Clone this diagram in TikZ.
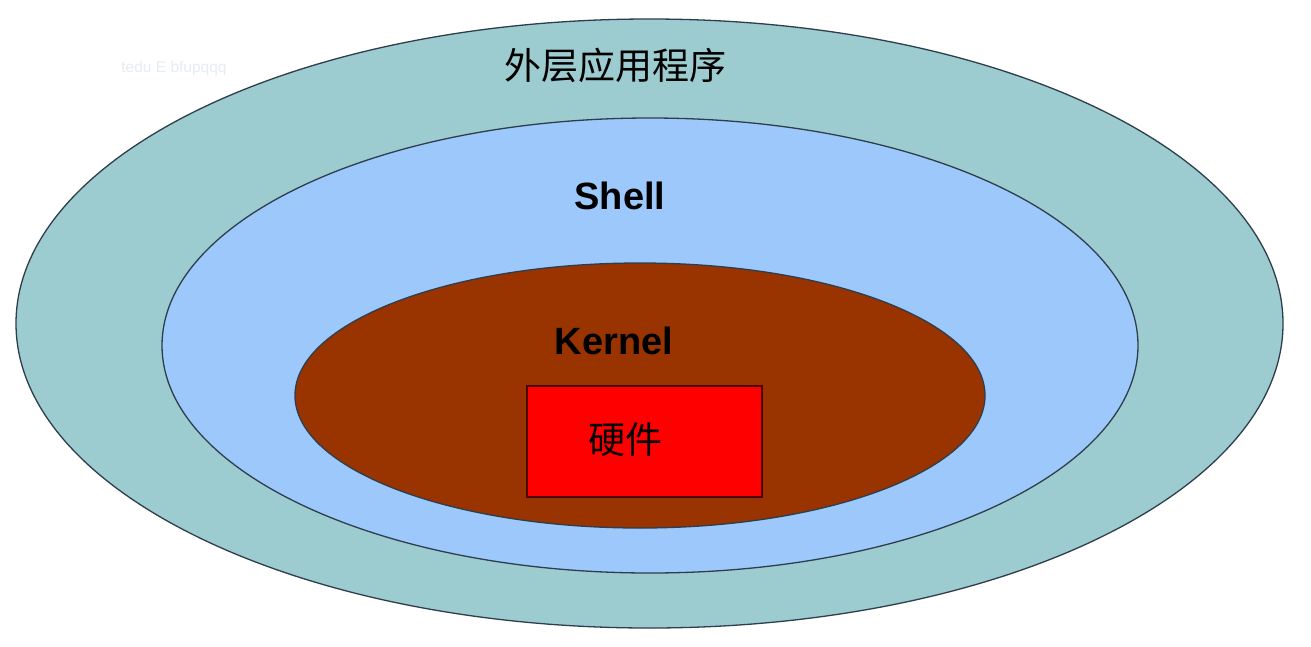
\documentclass[tikz,border=0pt]{standalone}
\usepackage{fontspec}
\setmainfont{Liberation Sans}
\newfontfamily\cjk{Noto Sans CJK SC}
\definecolor{outerc}{HTML}{9CCBD0}
\definecolor{shellc}{HTML}{9CC8FC}
\definecolor{kernc}{HTML}{993300}
\definecolor{hwc}{HTML}{FF0000}
\definecolor{edgec}{HTML}{2E3E4C}
\definecolor{wmc}{HTML}{E6EDF2}
\begin{document}
\begin{tikzpicture}[x=1pt,y=-1pt,
  layer/.style={draw=edgec,line width=1.3pt},
  lbl/.style={inner sep=0pt,font=\fontsize{38}{40}\selectfont\bfseries},
  cjklbl/.style={inner sep=0pt,font=\fontsize{37}{40}\selectfont\cjk}]
\useasboundingbox (0,0) rectangle (1311,646);
\fill[white] (0,0) rectangle (1311,646);
\draw[layer,fill=outerc] (649.5,323.5) ellipse [x radius=633.5, y radius=304.5];
\draw[layer,fill=shellc] (650,345.5) ellipse [x radius=488, y radius=227.5];
\draw[layer,fill=kernc] (640,395.5) ellipse [x radius=345, y radius=132.5];
\node[draw=black!70!red,line width=1.2pt,fill=hwc,minimum width=235pt,minimum height=111pt,inner sep=0pt] (hw) at (644.5,441.5) {};
\node[cjklbl] (hwt) at (625,440) {硬件};
\node[cjklbl] (app) at (615,65) {外层应用程序};
\node[lbl] (shell) at (620,196) {Shell};
\node[lbl] (kernel) at (614,341) {Kernel};
\node[inner sep=0pt,text=wmc,font=\fontsize{15.5}{16}\selectfont] (wm) at (174,68) {tedu E bfupqqq};
\end{tikzpicture}
\end{document}
